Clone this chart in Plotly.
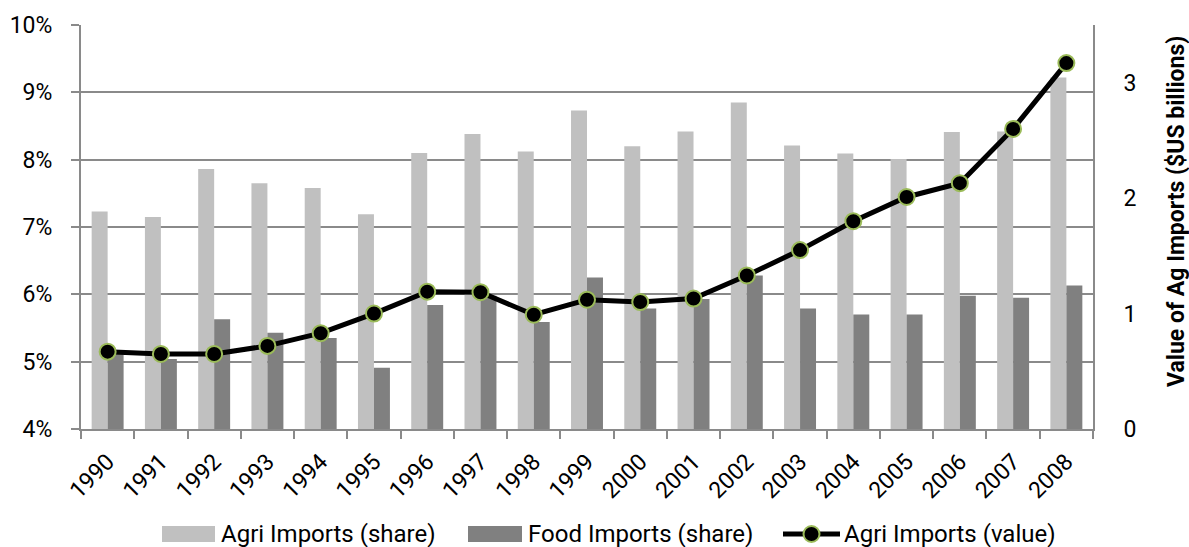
import plotly.graph_objects as go

years = [str(y) for y in range(1990, 2009)]

# Share of total imports (%)
agri_share = [7.23, 7.15, 7.86, 7.65, 7.58, 7.19, 8.10, 8.38, 8.12, 8.73,
              8.20, 8.42, 8.85, 8.21, 8.09, 8.01, 8.41, 8.42, 9.22]
food_share = [5.12, 5.04, 5.63, 5.43, 5.35, 4.91, 5.84, 5.98, 5.59, 6.25,
              5.79, 5.93, 6.28, 5.79, 5.70, 5.70, 5.98, 5.95, 6.13]

# Value of agricultural imports ($US billions)
agri_value = [0.67, 0.65, 0.65, 0.72, 0.83, 1.00, 1.19, 1.185, 0.99, 1.12,
              1.10, 1.13, 1.33, 1.55, 1.80, 2.01, 2.13, 2.60, 3.17]

left_ticks = [4, 5, 6, 7, 8, 9, 10]
left_labels = [f"{t}%" for t in left_ticks]
right_ticks = [0, 1, 2, 3]

series_names = ["Agri Imports (share)", "Food Imports (share)", "Agri Imports (value)"]
right_title = "Value of Ag Imports ($US billions)"
LIGHT, DARK, GREEN = "#C0C0C0", "#808080", "#9BBB59"
GRID = "#8A8A8A"
FONT = "Roboto, 'Open Sans', sans-serif"

W, H = 1189, 547
M = dict(l=81, r=96, t=25, b=118)
PW = W - M["l"] - M["r"]
PH = H - M["t"] - M["b"]


def px_x(px):
    """Pixel column -> paper x."""
    return (px - M["l"]) / PW


def px_y(py):
    """Pixel row -> paper y."""
    return (H - M["b"] - py) / PH


fig = go.Figure()
fig.add_trace(go.Bar(
    x=years, y=agri_share, name=series_names[0],
    marker=dict(color=LIGHT, line=dict(width=0)),
))
fig.add_trace(go.Bar(
    x=years, y=food_share, name=series_names[1],
    marker=dict(color=DARK, line=dict(width=0)),
))
fig.add_trace(go.Scatter(
    x=years, y=agri_value, name=series_names[2], yaxis="y2",
    mode="lines+markers",
    line=dict(color="black", width=5),
    marker=dict(color="black", size=16, line=dict(color=GREEN, width=2)),
))

# Legend row drawn beneath the axis (wide swatches)
ly = 534
shapes = [
    dict(type="rect", xref="paper", yref="paper",
         x0=px_x(162), x1=px_x(215), y0=px_y(542), y1=px_y(526),
         fillcolor=LIGHT, line=dict(width=0)),
    dict(type="rect", xref="paper", yref="paper",
         x0=px_x(468), x1=px_x(522), y0=px_y(542), y1=px_y(526),
         fillcolor=DARK, line=dict(width=0)),
    dict(type="line", xref="paper", yref="paper",
         x0=px_x(783), x1=px_x(840), y0=px_y(ly), y1=px_y(ly),
         line=dict(color="black", width=5)),
    dict(type="circle", xref="paper", yref="paper",
         xsizemode="pixel", ysizemode="pixel",
         xanchor=px_x(811.5), yanchor=px_y(ly),
         x0=-8, x1=8, y0=-8, y1=8,
         fillcolor="black", line=dict(color=GREEN, width=2)),
]
annotations = [
    dict(text=name, xref="paper", yref="paper", x=px_x(xs), y=px_y(ly),
         xanchor="left", yanchor="middle", showarrow=False,
         font=dict(size=24, color="black"))
    for name, xs in zip(series_names, [219, 526, 842])
]
# Secondary axis title, rotated
annotations.append(dict(
    text=f"<b>{right_title}</b>", xref="paper", yref="paper",
    x=px_x(1176), y=px_y(212), textangle=-90,
    xanchor="center", yanchor="middle", showarrow=False,
    font=dict(size=23, color="black"),
))

fig.update_layout(
    width=W, height=H,
    margin=dict(l=M["l"], r=M["r"], t=M["t"], b=M["b"], pad=0),
    plot_bgcolor="white", paper_bgcolor="white",
    font=dict(family=FONT, size=23, color="black"),
    barmode="group", bargap=0.40, bargroupgap=0.0,
    showlegend=False,
    shapes=shapes, annotations=annotations,
    xaxis=dict(
        type="category", range=[-0.5, len(years) - 0.5],
        tickangle=-45, tickson="boundaries",
        ticks="outside", ticklen=8, tickwidth=2, tickcolor=GRID,
        showline=True, linecolor=GRID, linewidth=2,
        showgrid=False, tickfont=dict(size=23), ticklabelstandoff=8,
        automargin=False,
    ),
    yaxis=dict(
        range=[4, 10], tickvals=left_ticks, ticktext=left_labels,
        ticks="outside", ticklen=8, tickwidth=2, tickcolor=GRID,
        showline=True, linecolor=GRID, linewidth=2,
        showgrid=True, gridcolor=GRID, gridwidth=2,
        zeroline=False, tickfont=dict(size=23), ticklabelstandoff=14,
        automargin=False,
    ),
    yaxis2=dict(
        overlaying="y", side="right", range=[0, 3.5], tickvals=right_ticks,
        showline=True, linecolor=GRID, linewidth=2,
        showgrid=False, zeroline=False, ticks="",
        tickfont=dict(size=23), ticklabelstandoff=24, automargin=False,
    ),
)

fig.write_html("out.html")
